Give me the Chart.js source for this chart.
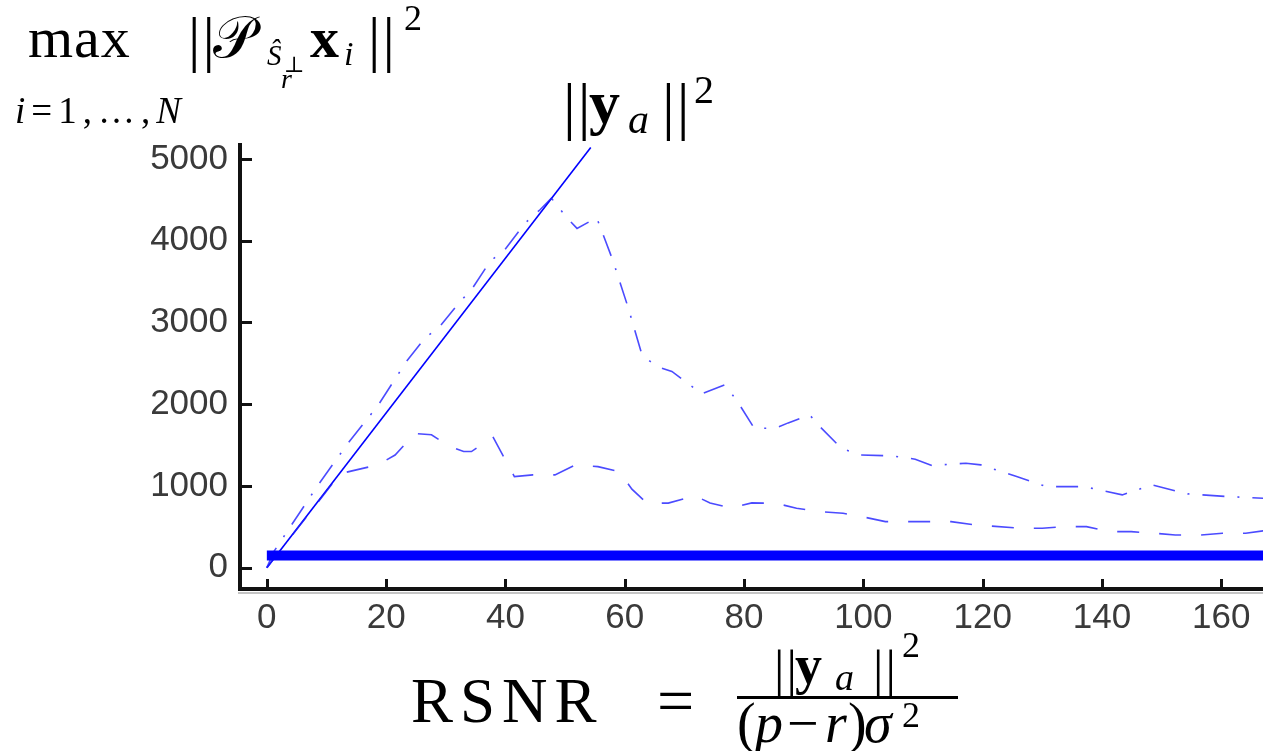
<!DOCTYPE html>
<html>
<head>
<meta charset="utf-8">
<script src="https://cdn.jsdelivr.net/npm/chart.js@4.4.0/dist/chart.umd.min.js"></script>
<style>
  html, body { margin: 0; padding: 0; background: #fff; }
  #wrap { position: relative; width: 1263px; height: 751px; overflow: hidden; }
  #mycanvas { position: absolute; left: 0; top: 0; }
  .tx { position: absolute; line-height: 1; white-space: nowrap; color: #000;
        font-family: 'Liberation Serif', 'DejaVu Serif', serif; }
  .bar { position: absolute; background: #000; }
</style>
</head>
<body>
<div id="wrap">
  <canvas id="mycanvas" width="1263" height="751"></canvas>
</div>
<script>
// tick labels
var xTicks = [0, 20, 40, 60, 80, 100, 120, 140, 160];
var yTicks = [0, 1000, 2000, 3000, 4000, 5000];

// ||y_a||^2 reference line
var rsnrRef = [0, 54.3];
var normRef = [0, 5140];

// thick floor line
var rsnrFloor = [0, 170];
var floorVal = [150, 150];

// dash-dot curve
var rsnrMax = [0, 1.2, 8.6, 13.4, 18.7, 23.4, 26.5, 29, 32.4, 34.3, 37.4, 39.9, 43.3, 45.8, 47.7,
  50.3, 52, 55.3, 58, 60.6, 62.9, 65.4, 67.9, 72.9, 76.8, 78.9, 81.7, 85.3, 87.4, 91, 92.7,
  96.3, 99.5, 104.8, 108.7, 111.5, 117.2, 119.7, 125.7, 130.7, 137, 143.4, 148.4, 154.4, 161.2, 168];
var valMax = [0, 200, 1012, 1502, 1991, 2522, 2808, 2950, 3256, 3399, 3745, 3889, 4215, 4378, 4520,
  4280, 4150, 4280, 3760, 3175, 2600, 2460, 2400, 2126, 2236, 2032, 1706, 1706, 1771, 1869, 1726,
  1461, 1379, 1367, 1327, 1250, 1278, 1257, 1114, 991, 991, 890, 1012, 902, 869, 845];

// dashed curve
var rsnrDash = [0, 12.3, 15, 18.6, 21.5, 24.8, 27.6, 30.7, 33, 34.3, 37.9, 41.5, 44.6, 48.3, 51.7,
  55.5, 59.1, 61.2, 63.7, 67.3, 71.8, 74.3, 77.8, 81.3, 85.3, 88.8, 92.7, 96.6, 99.8, 103.7,
  111.5, 114.7, 118.9, 126.4, 130, 133.8, 137.4, 141.3, 144.9, 148.8, 152.3, 156.6, 160.2, 164.1, 168];
var valDash = [0, 1150, 1196, 1257, 1378, 1640, 1625, 1481, 1420, 1420, 1600, 1114, 1135, 1135, 1257,
  1236, 1175, 960, 790, 790, 880, 790, 730, 792, 788, 727, 685, 665, 624, 563,
  563, 563, 522, 482, 482, 502, 502, 441, 441, 421, 400, 400, 421, 421, 460];

function pts(xs, ys) {
  return xs.map(function(x, i) { return { x: x, y: ys[i] }; });
}

var wrap = document.getElementById('wrap');
function put(html, x, base, size, css) {
  var d = document.createElement('div');
  d.className = 'tx';
  d.innerHTML = html;
  d.style.left = x + 'px';
  d.style.top = (base - 0.8375 * size) + 'px';
  d.style.fontSize = size + 'px';
  if (css) d.style.cssText += css;
  wrap.appendChild(d);
}

// y axis title
put('max', 28, 58, 58, 'letter-spacing:1px');
put('||', 188, 60, 62, 'letter-spacing:2px');
put('&#x1D4AB;', 213, 58, 58);
put('&#x015C;', 267, 65, 29, 'font-style:italic');
put('&#x22A5;', 284, 72, 22);
put('r', 281, 88, 28, 'font-style:italic');
put('x', 310, 58, 58, 'font-weight:bold');
put('i', 344, 65, 34, 'font-style:italic');
put('||', 368, 60, 62, 'letter-spacing:2px');
put('2', 404, 30, 36);
put('<i>i</i>=1,&hellip;,<i>N</i>', 15, 123, 37, 'letter-spacing:6px');

// label of the solid line
put('||', 563, 128, 64, 'letter-spacing:2px');
put('y', 589, 123, 62, 'font-weight:bold');
put('a', 628, 133, 42, 'font-style:italic');
put('||', 662, 128, 64, 'letter-spacing:2px');
put('2', 694, 103, 40);

// x axis title
put('RSNR', 411, 723, 63, 'letter-spacing:7px');
put('=', 657, 723, 66);
var fb = document.createElement('div');
fb.className = 'bar';
fb.style.cssText = 'left:737px;top:696px;width:221px;height:3px;';
wrap.appendChild(fb);
put('||', 774, 688, 52, 'letter-spacing:2px');
put('y', 795, 683, 54, 'font-weight:bold');
put('a', 835, 690, 38, 'font-style:italic');
put('||', 873, 688, 52, 'letter-spacing:2px');
put('2', 902, 657, 36);
put('(', 737, 742, 56);
put('p', 755, 742, 56, 'font-style:italic');
put('&minus;', 787, 742, 56);
put('r', 825, 742, 56, 'font-style:italic');
put(')', 848, 742, 56);
put('&sigma;', 864, 742, 56, 'font-style:italic');
put('2', 902, 727, 36);

var tickMarks = {
  id: 'tickMarks',
  afterDraw: function(chart) {
    var ctx = chart.ctx, xs = chart.scales.x, ys = chart.scales.y, a = chart.chartArea;
    ctx.save();
    ctx.strokeStyle = '#111';
    ctx.lineWidth = 3;
    ctx.beginPath();
    xTicks.forEach(function(v) {
      var px = Math.round(xs.getPixelForValue(v)) + 0.5;
      ctx.moveTo(px, a.bottom);
      ctx.lineTo(px, a.bottom - 10);
    });
    yTicks.forEach(function(v) {
      var py = Math.round(ys.getPixelForValue(v)) + 0.5;
      ctx.moveTo(a.left, py);
      ctx.lineTo(a.left + 12, py);
    });
    ctx.stroke();
    // light shadow under the x axis
    ctx.strokeStyle = '#c4c4c4';
    ctx.lineWidth = 2;
    ctx.beginPath();
    ctx.moveTo(a.left - 2, a.bottom + 4);
    ctx.lineTo(a.right, a.bottom + 4);
    ctx.stroke();
    ctx.restore();
  }
};

var tickFont = { family: 'Liberation Sans', size: 35 };
function plain(v) { return String(v); }

var ctx = document.getElementById('mycanvas');
var chart = new Chart(ctx, {
  type: 'line',
  data: {
    datasets: [
      {
        label: 'floor',
        data: pts(rsnrFloor, floorVal),
        borderColor: '#0000ff',
        borderWidth: 10,
        borderCapStyle: 'butt'
      },
      {
        label: 'dashed',
        data: pts(rsnrDash, valDash),
        borderColor: 'rgba(30, 30, 255, 0.8)',
        borderWidth: 1.6,
        borderDash: [22, 20]
      },
      {
        label: 'dash-dot',
        data: pts(rsnrMax, valMax),
        borderColor: 'rgba(30, 30, 255, 0.8)',
        borderWidth: 1.6,
        borderDash: [22, 13, 2, 13]
      },
      {
        label: 'ya',
        data: pts(rsnrRef, normRef),
        borderColor: '#0000ff',
        borderWidth: 1.6
      }
    ]
  },
  options: {
    responsive: false,
    animation: false,
    devicePixelRatio: 1,
    layout: { padding: { left: 0, right: 0, top: 145, bottom: 0 } },
    plugins: { legend: { display: false }, tooltip: { enabled: false } },
    elements: { point: { radius: 0 }, line: { tension: 0, fill: false } },
    scales: {
      x: {
        type: 'linear',
        min: -4.5,
        max: 167,
        grid: { display: false, drawTicks: false },
        border: { display: true, width: 4, color: '#111' },
        ticks: { padding: 8, color: '#3a3a3a', font: tickFont, callback: plain },
        afterBuildTicks: function(s) { s.ticks = xTicks.map(function(v) { return { value: v }; }); },
        afterFit: function(s) { s.height = 162; s.paddingLeft = 0; s.paddingRight = 0; }
      },
      y: {
        type: 'linear',
        min: -261,
        max: 5170,
        grid: { display: false, drawTicks: false },
        border: { display: true, width: 4, color: '#111' },
        ticks: { padding: 12, color: '#3a3a3a', font: tickFont, callback: plain },
        afterBuildTicks: function(s) { s.ticks = yTicks.map(function(v) { return { value: v }; }); },
        afterFit: function(s) { s.width = 240; s.paddingTop = 0; s.paddingBottom = 0; }
      }
    }
  },
  plugins: [tickMarks]
});
</script>
</body>
</html>
